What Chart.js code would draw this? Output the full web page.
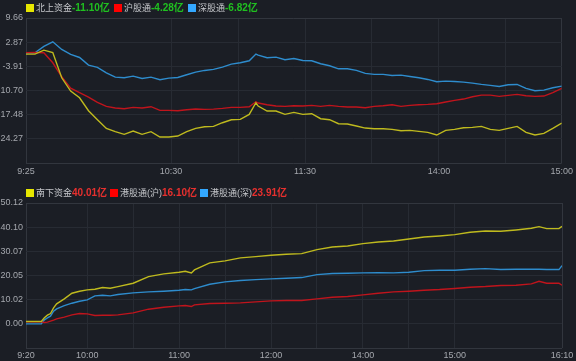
<!DOCTYPE html>
<html>
<head>
<meta charset="utf-8">
<script src="https://cdn.jsdelivr.net/npm/chart.js@4.4.0/dist/chart.umd.min.js"></script>
<style>
  html, body { margin: 0; padding: 0; width: 576px; height: 361px; overflow: hidden; background: #1b1e25;
    font-family: "Liberation Sans", Arial, "Noto Sans CJK SC", sans-serif; }
  canvas { position: absolute; left: 0; }
  .item { position: absolute; height: 12px; line-height: 12px; white-space: nowrap; font-size: 9px; color: #c4c6ca; }
  .item i { display: inline-block; width: 8px; height: 8px; margin-right: 2px; vertical-align: -1px; }
  .item b { font-size: 10px; }
  .up b { color: #20c020; }
  .down b { color: #e8302e; }
</style>
</head>
<body>
<canvas id="north" width="576" height="180" style="top:0"></canvas>
<canvas id="south" width="576" height="181" style="top:180px"></canvas>

<div class="item up" style="left:26px;top:2px"><i style="background:#e6e600"></i>北上资金<b>-11.10亿</b></div>
<div class="item up" style="left:114px;top:2px"><i style="background:#ff0000"></i>沪股通<b>-4.28亿</b></div>
<div class="item up" style="left:188px;top:2px"><i style="background:#33a8ff"></i>深股通<b>-6.82亿</b></div>

<div class="item down" style="left:26px;top:187px"><i style="background:#e6e600"></i>南下资金<b>40.01亿</b></div>
<div class="item down" style="left:110px;top:187px"><i style="background:#ff0000"></i>港股通(沪)<b>16.10亿</b></div>
<div class="item down" style="left:200px;top:187px"><i style="background:#33a8ff"></i>港股通(深)<b>23.91亿</b></div>

<script>
// top chart: minutes since 9:25 (lunch break removed)
const northMinutes = [0,4,8,12,16,20,24,28,32,36,40,44,48,52,56,60,64,68,72,76,80,84,88,92,96,100,103,
  104,108,112,116,120,124,128,132,136,140,144,148,152,156,160,164,168,172,176,180,184,188,192,196,200,
  204,208,212,216,220,224,228,232,236,240]
const northTotal = [-0.48,-0.48,0.64,-0.02,-7.12,-10.86,-12.73,-16.37,-18.90,-21.33,-22.26,-23.01,-22.07,
  -23.01,-22.26,-23.76,-23.76,-23.48,-22.26,-21.33,-20.86,-20.77,-19.74,-18.90,-18.80,-17.40,-14.13,
  -15.06,-16.47,-16.47,-17.40,-16.84,-17.40,-17.21,-18.62,-18.90,-20.02,-20.11,-20.67,-21.24,-21.42,
  -21.42,-21.61,-21.98,-21.89,-22.17,-22.45,-23.20,-21.89,-21.61,-21.14,-21.05,-20.77,-21.61,-21.89,
  -21.33,-20.77,-22.45,-23.20,-22.73,-21.33,-19.84]
const northSh = [-0.05,-0.02,-0.11,-2.91,-6.84,-10.02,-11.32,-12.54,-14.04,-15.16,-15.62,-15.81,-15.44,
  -15.62,-15.25,-16.28,-16.28,-16.37,-16.09,-15.91,-16.00,-15.91,-15.72,-15.44,-15.44,-15.25,-13.85,
  -14.22,-14.69,-15.06,-15.16,-14.97,-15.06,-14.88,-15.16,-14.88,-15.16,-15.34,-15.34,-15.53,-15.16,
  -14.97,-14.69,-15.16,-14.88,-14.69,-14.60,-14.41,-13.94,-13.48,-13.10,-12.45,-11.98,-11.98,-12.35,
  -12.07,-11.79,-12.17,-12.35,-12.26,-11.32,-10.11]
const northSz = [-0.11,-0.11,1.67,2.98,0.83,-0.58,-1.42,-3.57,-4.22,-5.72,-6.93,-7.12,-6.65,-7.31,-6.95,
  -7.68,-7.21,-7.03,-6.28,-5.53,-5.06,-4.78,-4.13,-3.29,-2.91,-2.35,-0.45,
  -0.76,-1.51,-1.32,-2.07,-1.70,-2.26,-2.35,-3.19,-3.75,-4.60,-4.60,-5.06,-5.90,-6.18,-6.18,-6.47,-6.37,
  -6.75,-7.12,-7.59,-8.24,-8.05,-8.15,-8.33,-8.61,-8.99,-9.27,-9.55,-9.08,-8.99,-10.11,-10.77,-10.58,
  -9.92,-9.46]
const northYTicks = [9.66, 2.87, -3.91, -10.70, -17.48, -24.27]
const northYMin = -31.05
const northXLabels = { 0: '9:25', 65: '10:30', 125: '11:30', 185: '14:00', 240: '15:00' }
const northXGrid = [0, 65, 95, 125, 155, 185, 215, 240]

// bottom chart: minutes since 9:20 (lunch break removed)
const southMinutes = [0,5,10,12,14,16,18,20,25,30,35,40,45,50,55,60,70,80,90,100,104,108,110,120,130,
  140,150,160,170,180,190,200,210,220,230,240,250,260,270,280,290,300,310,320,330,335,340,345,348,350]
const southTotal = [0.95,0.95,0.95,2.49,3.59,4.28,6.63,8.28,10.36,12.70,13.53,14.08,14.36,15.05,14.77,
  15.46,16.84,19.61,20.71,21.40,21.82,21.12,22.37,25.27,26.10,27.34,27.89,28.44,28.86,29.13,30.79,31.89,
  32.31,33.27,33.97,34.38,35.21,36.04,36.45,37.00,37.97,38.52,38.38,38.94,39.63,40.32,39.49,39.49,39.49,40.45]
const southSh = [0.8,0.8,0.8,0.55,0.69,1.10,1.52,2.07,2.76,3.73,4.28,4.14,3.45,3.59,3.59,3.73,4.56,6.08,
  6.90,7.46,7.59,7.18,7.87,8.42,8.56,8.70,9.11,9.53,9.66,9.66,10.36,11.05,11.32,12.01,12.70,13.25,13.53,
  13.95,14.22,14.64,15.19,15.46,15.88,16.02,16.57,17.67,16.84,16.84,16.84,16.02]
const southSz = [0,0,0,1.66,2.49,3.18,5.25,6.21,7.59,8.56,9.39,9.94,11.60,11.87,11.60,12.15,12.84,13.25,
  13.53,13.95,14.22,14.08,14.64,16.43,17.40,17.95,18.36,18.64,18.92,19.19,20.43,20.85,20.99,21.12,21.26,
  21.12,21.40,22.09,22.23,22.23,22.64,22.92,22.51,22.64,22.64,22.64,22.51,22.51,22.51,24.16]
const southYTicks = [50.12, 40.10, 30.07, 20.05, 10.02, 0.00]
const southYMin = -10.02
const southXLabels = { 0: '9:20', 40: '10:00', 100: '11:00', 160: '12:00', 220: '14:00', 280: '15:00', 350: '16:10' }
const southXGrid = [0, 40, 70, 100, 130, 160, 190, 220, 250, 280, 350]

const gridColor = '#272b33'
const frameColor = '#32363e'
const tickColor = '#a5a8ae'

function pts(xs, ys) {
  return xs.map((x, i) => ({ x: x, y: ys[i] }))
}

function line(data, color) {
  return { data: data, borderColor: color, borderWidth: 1.4, pointRadius: 0, tension: 0, fill: false }
}

function makeChart(id, opt) {
  const xMax = opt.grid[opt.grid.length - 1]
  const yMax = opt.yTicks[0]
  return new Chart(document.getElementById(id), {
    type: 'line',
    data: {
      datasets: [
        line(pts(opt.minutes, opt.total), '#bfba1e'),
        line(pts(opt.minutes, opt.sh), '#c0141c'),
        line(pts(opt.minutes, opt.sz), '#2e8ccd')
      ]
    },
    options: {
      responsive: false,
      animation: false,
      parsing: false,
      layout: { padding: { top: opt.padTop, right: 14, left: 0, bottom: 0 } },
      plugins: { legend: { display: false }, tooltip: { enabled: false } },
      scales: {
        x: {
          type: 'linear',
          min: 0,
          max: xMax,
          afterBuildTicks: s => { s.ticks = opt.grid.map(v => ({ value: v })) },
          afterFit: s => { s.height = opt.xHeight },
          grid: {
            drawTicks: false,
            color: c => (c.tick && (c.tick.value === 0 || c.tick.value === xMax)) ? frameColor : gridColor
          },
          border: { display: false },
          ticks: {
            autoSkip: false,
            maxRotation: 0,
            padding: opt.xPad,
            color: tickColor,
            font: { family: 'Liberation Sans', size: 9 },
            callback: v => opt.labels[v] || ''
          }
        },
        y: {
          min: opt.yMin,
          max: yMax,
          afterBuildTicks: s => { s.ticks = [opt.yMin].concat(opt.yTicks.slice().reverse()).map(v => ({ value: v })) },
          afterFit: s => { s.width = 26 },
          grid: {
            drawTicks: false,
            color: c => (c.tick && (c.tick.value === opt.yMin || c.tick.value === yMax)) ? frameColor : gridColor
          },
          border: { display: false },
          ticks: {
            padding: 3,
            color: tickColor,
            font: { family: 'Liberation Sans', size: 9 },
            callback: v => v === opt.yMin ? '' : v.toFixed(2)
          }
        }
      }
    }
  })
}

makeChart('north', {
  minutes: northMinutes, total: northTotal, sh: northSh, sz: northSz,
  yTicks: northYTicks, yMin: northYMin, labels: northXLabels, grid: northXGrid,
  padTop: 18, xHeight: 17, xPad: 3
})

makeChart('south', {
  minutes: southMinutes, total: southTotal, sh: southSh, sz: southSz,
  yTicks: southYTicks, yMin: southYMin, labels: southXLabels, grid: southXGrid,
  padTop: 23, xHeight: 13, xPad: 2
})
</script>
</body>
</html>
